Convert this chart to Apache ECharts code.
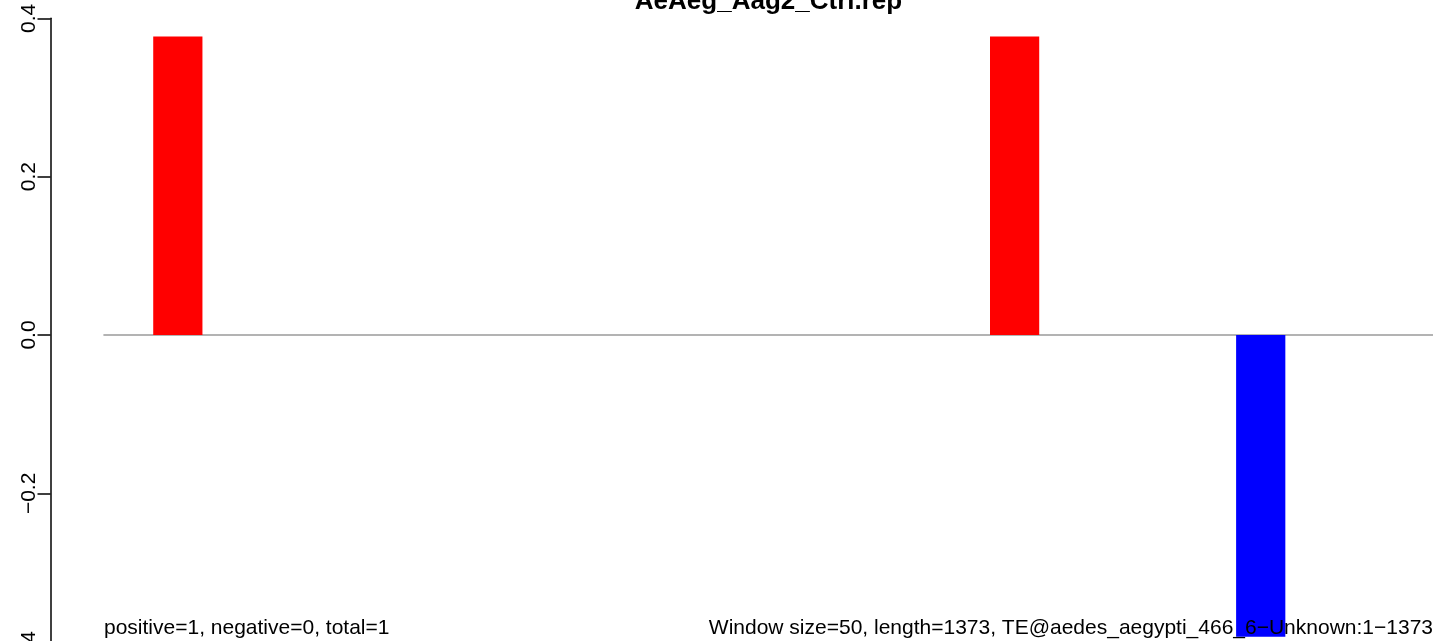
<!DOCTYPE html>
<html>
<head>
<meta charset="utf-8">
<script src="https://cdn.jsdelivr.net/npm/echarts@6/dist/echarts.min.js"></script>
<style>
html,body{margin:0;padding:0;background:#fff;overflow:hidden;}
#chart{width:1433px;height:680px;}
</style>
</head>
<body>
<div id="chart"></div>
<script>
// window start positions (window size 50)
const windowStarts = ['0','50','100','150','200','250','300','350','400','450','500','550','600','650','700','750','800','850','900','950','1000','1050','1100','1150','1200','1250','1300'];
// signal value per window (null = empty)
const windowValues = [null,0.377,null,null,null,null,null,null,null,null,null,null,null,null,null,null,null,null,0.377,null,null,null,null,-0.381,null,null,null];
const yTicks = [-0.4,-0.2,0.0,0.2,0.4];
const titleText = 'AeAeg_Aag2_Ctrl.rep';
const leftNote = 'positive=1, negative=0, total=1';
const rightNote = 'Window size=50, length=1373, TE@aedes_aegypti_466_6\u2212Unknown:1\u22121373';

const FONT = '"Liberation Sans", Arial, Helvetica, sans-serif';
const chart = echarts.init(document.getElementById('chart'), null, {renderer:'canvas'});
chart.setOption({
  animation:false,
  backgroundColor:'#ffffff',
  grid:{left:104,right:0,top:18.3,bottom:28.3,containLabel:false},
  xAxis:{
    type:'category',
    data:windowStarts,
    boundaryGap:true,
    axisLine:{show:true,onZero:true,lineStyle:{color:'#9a9a9a',width:1.6}},
    axisTick:{show:false},
    axisLabel:{show:false},
    splitLine:{show:false}
  },
  yAxis:{
    type:'value',
    min:yTicks[0],
    max:yTicks[yTicks.length-1],
    interval:0.2,
    offset:53.5,
    axisLine:{show:true,lineStyle:{color:'#000',width:1.5}},
    axisTick:{show:true,length:13,lineStyle:{color:'#000',width:1.5}},
    splitLine:{show:false},
    axisLabel:{
      rotate:90,
      margin:11,
      color:'#000',
      fontFamily:FONT,
      fontSize:21,
      formatter:function(v){return v.toFixed(1).replace('-','\u2212');}
    }
  },
  series:[{
    type:'bar',
    data:windowValues,
    barCategoryGap:'0%',
    barWidth:'100%',
    itemStyle:{color:function(p){return p.value>=0?'#ff0000':'#0000ff';}}
  }],
  graphic:[
    {type:'text',x:768.5,y:1.5,z:100,style:{text:titleText,fill:'#000',font:'bold 26px '+FONT,textAlign:'center',textVerticalAlign:'middle'}},
    {type:'text',x:104,y:628,z:100,style:{text:leftNote,fill:'#000',font:'21px '+FONT,textAlign:'left',textVerticalAlign:'middle'}},
    {type:'text',x:1433,y:628,z:100,style:{text:rightNote,fill:'#000',font:'21px '+FONT,textAlign:'right',textVerticalAlign:'middle'}}
  ]
});
</script>
</body>
</html>
